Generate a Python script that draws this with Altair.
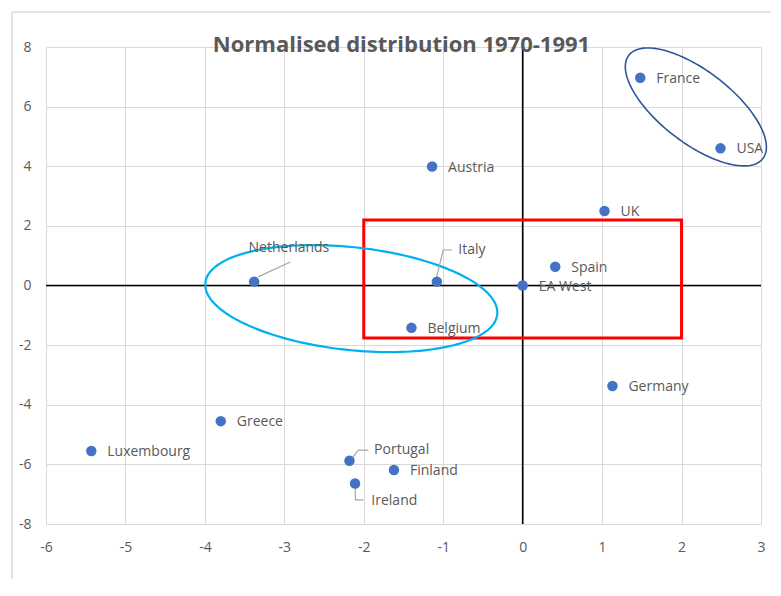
import altair as alt
import pandas as pd
import numpy as np

# ---- data ----
countries = ["France", "USA", "Austria", "UK", "Spain", "EA West", "Italy", "Netherlands",
             "Belgium", "Germany", "Greece", "Luxembourg", "Portugal", "Finland", "Ireland"]
x_vals = [1.48, 2.49, -1.14, 1.03, 0.41, 0.0, -1.08, -3.38, -1.40, 1.13, -3.80, -5.43, -2.18, -1.62, -2.11]
y_vals = [6.97, 4.60, 3.99, 2.50, 0.63, 0.0, 0.13, 0.13, -1.42, -3.37, -4.55, -5.55, -5.88, -6.19, -6.64]

# labels placed right of their point
right_labeled = ["France", "USA", "Austria", "UK", "Spain", "EA West", "Belgium",
                 "Germany", "Greece", "Luxembourg", "Finland"]
# labels moved away, with leader lines
moved_names = ["Netherlands", "Italy", "Portugal", "Ireland"]
moved_lx = [-3.45, -0.81, -1.87, -1.905]
moved_ly = [1.26, 1.19, -5.52, -7.23]

leader_names = ["Netherlands", "Netherlands", "Italy", "Italy", "Italy",
                "Portugal", "Portugal", "Portugal", "Ireland", "Ireland", "Ireland"]
leader_order = [0, 1, 0, 1, 2, 0, 1, 2, 0, 1, 2]
leader_x = [-3.33, -2.925, -1.087, -1.0, -0.886, -2.144, -2.069, -1.943, -2.106, -2.106, -2.006]
leader_y = [0.29, 0.79, 0.25, 1.19, 1.19, -5.79, -5.52, -5.52, -6.69, -7.19, -7.19]

x_ticks = [-6, -5, -4, -3, -2, -1, 0, 1, 2, 3]
y_ticks = [-8, -6, -4, -2, 0, 2, 4, 6, 8]
x_domain = [-6, 3]
y_domain = [-8, 8]

rect_x = [-2.0]
rect_x2 = [2.0]
rect_y = [-1.76]
rect_y2 = [2.2]

# ellipse annotations: centre (data units), semi-axes (px), rotation (deg, clockwise)
ell_names = ["blue", "cyan"]
ell_cx = [2.18, -2.157]
ell_cy = [5.99, -0.44]
ell_a = [84.6, 146.8]
ell_b = [36.0, 51.4]
ell_rot = [37.6, 6.2]
ell_color = ["#2F5597", "#00B0F0"]
ell_width = [1.6, 2.2]

title = ["Normalised distribution 1970-1991"]

W, H = 715, 477
px_x = W / (x_domain[1] - x_domain[0])
px_y = H / (y_domain[1] - y_domain[0])

FONT = "Open Sans"
TXT = "#595959"

pts = pd.DataFrame({"country": countries, "x": x_vals, "y": y_vals})
moved = pd.DataFrame({"country": moved_names, "x": moved_lx, "y": moved_ly})
leaders = pd.DataFrame({"name": leader_names, "o": leader_order, "x": leader_x, "y": leader_y})

xs = alt.Scale(domain=x_domain, nice=False, zero=False)
ys = alt.Scale(domain=y_domain, nice=False, zero=False)

base = alt.Chart(pts).encode(
    x=alt.X("x:Q", scale=xs, title=None,
            axis=alt.Axis(values=x_ticks, labelExpr="datum.value + ''", labelPadding=16)),
    y=alt.Y("y:Q", scale=ys, title=None,
            axis=alt.Axis(values=y_ticks, labelExpr="datum.value + ''", labelPadding=15)),
)

points = base.mark_point(filled=True, size=110, color="#4472C4", opacity=1)

labels = alt.Chart(pts).transform_filter(
    alt.FieldOneOfPredicate(field="country", oneOf=right_labeled)
).mark_text(align="left", baseline="middle", dx=16, dy=1, font=FONT, fontSize=14, color=TXT).encode(
    x=alt.X("x:Q", scale=xs), y=alt.Y("y:Q", scale=ys), text="country:N")

moved_labels = alt.Chart(moved).mark_text(
    align="left", baseline="middle", font=FONT, fontSize=14, color=TXT).encode(
    x=alt.X("x:Q", scale=xs), y=alt.Y("y:Q", scale=ys), text="country:N")

leader_lines = alt.Chart(leaders).mark_line(color="#A6A6A6", strokeWidth=1.2).encode(
    x=alt.X("x:Q", scale=xs), y=alt.Y("y:Q", scale=ys), detail="name:N", order="o:Q")

zero_v = alt.Chart(pd.DataFrame({"x": [0]})).mark_rule(color="#000000", strokeWidth=1.6).encode(
    x=alt.X("x:Q", scale=xs))
zero_h = alt.Chart(pd.DataFrame({"y": [0]})).mark_rule(color="#000000", strokeWidth=1.6).encode(
    y=alt.Y("y:Q", scale=ys))

rect = alt.Chart(pd.DataFrame({"x": rect_x, "x2": rect_x2, "y": rect_y, "y2": rect_y2})).mark_rect(
    fill=None, stroke="#FF0000", strokeWidth=3, filled=False).encode(
    x=alt.X("x:Q", scale=xs), x2="x2", y=alt.Y("y:Q", scale=ys), y2="y2")

ell_layers = []
t = np.linspace(0, 2 * np.pi, 181)
for i in range(len(ell_names)):
    th = np.radians(ell_rot[i])
    dpx = ell_a[i] * np.cos(t) * np.cos(th) - ell_b[i] * np.sin(t) * np.sin(th)
    dpy = ell_a[i] * np.cos(t) * np.sin(th) + ell_b[i] * np.sin(t) * np.cos(th)
    df = pd.DataFrame({"x": ell_cx[i] + dpx / px_x, "y": ell_cy[i] - dpy / px_y, "o": np.arange(len(t))})
    ell_layers.append(alt.Chart(df).mark_line(color=ell_color[i], strokeWidth=ell_width[i]).encode(
        x=alt.X("x:Q", scale=xs), y=alt.Y("y:Q", scale=ys), order="o:Q"))

frame_df = pd.DataFrame({"a": [0]})
frame_left = alt.Chart(frame_df).mark_rule(color="#D9D9D9", strokeWidth=1.5).encode(
    x=alt.value(-34), y=alt.value(-35), y2=alt.value(600))
frame_top = alt.Chart(frame_df).mark_rule(color="#D9D9D9", strokeWidth=1.5).encode(
    x=alt.value(-34), x2=alt.value(760), y=alt.value(-35))

title_mark = alt.Chart(pd.DataFrame({"t": title})).mark_text(
    font=FONT, fontSize=22, fontWeight="bold", color=TXT, align="center", baseline="alphabetic"
).encode(text="t:N", x=alt.value(W / 2 - 2), y=alt.value(5))

chart = alt.layer(
    base.mark_point(opacity=0), frame_left, frame_top, zero_v, zero_h, rect, *ell_layers,
    leader_lines, points, labels, moved_labels, title_mark
).properties(
    width=W, height=H,
    padding={"left": 38, "top": 39, "right": 10, "bottom": 55},
    autosize=alt.AutoSizeParams(type="none"),
).configure_axis(
    grid=True, gridColor="#D9D9D9", gridWidth=1, domain=False, ticks=False,
    labelColor=TXT, labelFont=FONT, labelFontSize=14, labelFlush=False,
).configure_view(stroke=None)

chart.save("out.html", embed_options={"renderer": "svg", "actions": False})
